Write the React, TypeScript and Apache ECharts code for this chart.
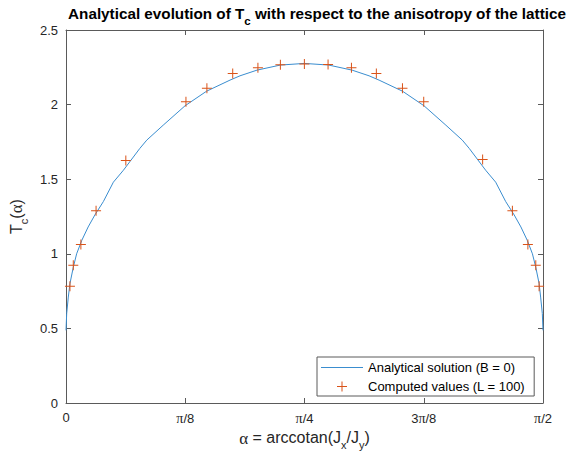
import React, { useEffect, useRef } from "react";
import * as echarts from "echarts";

// Analytical curve (left half and right half)
const lineAlphaLeft = [0, 0.0023, 0.0076, 0.013, 0.024, 0.035, 0.052, 0.073, 0.095, 0.123, 0.156, 0.189, 0.243, 0.266, 0.32, 0.392, 0.463, 0.54, 0.573, 0.629, 0.706, 0.785];
const lineTLeft = [0.487, 0.6, 0.71, 0.8, 0.91, 1.0, 1.09, 1.18, 1.26, 1.35, 1.48, 1.56, 1.706, 1.762, 1.862, 1.992, 2.09, 2.164, 2.193, 2.231, 2.265, 2.276];
const lineAlphaRight = [0.865, 0.942, 0.998, 1.031, 1.108, 1.179, 1.251, 1.305, 1.328, 1.382, 1.415, 1.448, 1.476, 1.498, 1.519, 1.536, 1.547, 1.558, 1.563, 1.5685, 1.5708];
const lineTRight = [2.265, 2.231, 2.193, 2.164, 2.09, 1.992, 1.862, 1.762, 1.706, 1.56, 1.48, 1.35, 1.26, 1.18, 1.09, 1.0, 0.91, 0.8, 0.71, 0.6, 0.487];

// Computed values (L = 100)
const pointAlpha = [0.013, 0.024, 0.049, 0.099, 0.197, 0.395, 0.464, 0.549, 0.632, 0.706, 0.785, 0.863, 0.94, 1.022, 1.108, 1.178, 1.372, 1.47, 1.521, 1.547, 1.558];
const pointT = [0.783, 0.924, 1.063, 1.289, 1.625, 2.019, 2.109, 2.209, 2.247, 2.267, 2.272, 2.269, 2.247, 2.209, 2.109, 2.019, 1.632, 1.288, 1.063, 0.924, 0.783];

const xTickLabels = ["0", "{p|π}/8", "{p|π}/4", "3{p|π}/8", "{p|π}/2"];
const yTickLabels = ["0", "0.5", "1", "1.5", "2", "2.5"];

const FONT = "'Liberation Sans', Arial, Helvetica, sans-serif";
const SERIF = "'Liberation Serif', 'DejaVu Serif', serif";
const AX = "#262626";
const BOX = "#5a5a5a";
const LINE_COLOR = "#3a8dcf";
const PLUS = "path://M4.5,0 L5.5,0 L5.5,4.5 L10,4.5 L10,5.5 L5.5,5.5 L5.5,10 L4.5,10 L4.5,5.5 L0,5.5 L0,4.5 L4.5,4.5 Z";
const LINE_ICON = "path://M0,0 L42,0 L42,1 L0,1 Z";

export default function App() {
  const ref = useRef<HTMLDivElement>(null);
  useEffect(() => {
    if (!ref.current) return;
    const chart = echarts.init(ref.current, null, { renderer: "svg" });
    const lineData = [
      ...lineAlphaLeft.map((a, i) => [a, lineTLeft[i]]),
      ...lineAlphaRight.map((a, i) => [a, lineTRight[i]]),
    ];
    const pts = pointAlpha.map((a, i) => [a, pointT[i]]);
    const step = Math.PI / 8;
    const xRich = { p: { fontFamily: SERIF, fontSize: 14, color: AX } };
    const nameRich = {
      g: { fontFamily: SERIF, fontSize: 17, color: AX, lineHeight: 18, verticalAlign: "top" },
      n: { fontFamily: FONT, fontSize: 16, color: AX, lineHeight: 18, verticalAlign: "top" },
      s: { fontFamily: FONT, fontSize: 11, color: AX, lineHeight: 11, padding: [10, 0, 0, 0], verticalAlign: "top" },
    };
    const axisCommon = {
      axisLine: { show: true, onZero: false, lineStyle: { color: BOX, width: 1 } },
      axisTick: { show: true, inside: true, length: 5, lineStyle: { color: BOX, width: 1 } },
      splitLine: { show: false },
    };
    chart.setOption({
      animation: false,
      backgroundColor: "#fff",
      title: {
        left: 312,
        top: 1,
        textAlign: "center",
        text: "{n|Analytical evolution of T}{s|c}{n| with respect to the anisotropy of the lattice}",
        textStyle: {
          rich: {
            n: { fontFamily: FONT, fontSize: 15.25, fontWeight: "bold", color: "#000", lineHeight: 17, verticalAlign: "top" },
            s: { fontFamily: FONT, fontSize: 11.5, fontWeight: "bold", color: "#000", lineHeight: 12, padding: [9, 0, 0, 0], verticalAlign: "top" },
          },
        },
      },
      grid: { left: 66, right: 26, top: 30, bottom: 55, containLabel: false },
      legend: {
        orient: "vertical",
        left: 317,
        top: 357,
        padding: [3, 9, 2, 4],
        itemWidth: 42,
        itemHeight: 10,
        itemGap: 4,
        borderColor: BOX,
        borderWidth: 1,
        borderRadius: 0,
        backgroundColor: "#fff",
        selectedMode: false,
        textStyle: { fontFamily: FONT, fontSize: 13, color: "#000", lineHeight: 15 },
        data: [
          { name: "Analytical solution (B = 0)", icon: LINE_ICON, itemStyle: { color: LINE_COLOR } },
          { name: "Computed values (L = 100)" },
        ],
      },
      xAxis: [
        {
          type: "value",
          min: 0,
          max: Math.PI / 2,
          interval: step,
          position: "bottom",
          ...axisCommon,
          axisLabel: {
            margin: 8,
            fontFamily: FONT,
            fontSize: 13,
            color: AX,
            rich: xRich,
            formatter: (v: number) => xTickLabels[Math.round(v / step)] ?? "",
          },
          name: "{g|α}{n| = arccotan(J}{s|x}{n|/J}{s|y}{n|)}",
          nameLocation: "middle",
          nameGap: 25,
          nameTextStyle: { rich: nameRich },
        },
        {
          type: "value",
          min: 0,
          max: Math.PI / 2,
          interval: step,
          position: "top",
          ...axisCommon,
          axisLabel: { show: false },
        },
      ],
      yAxis: [
        {
          type: "value",
          min: 0,
          max: 2.5,
          interval: 0.5,
          position: "left",
          ...axisCommon,
          axisLabel: {
            margin: 8,
            fontFamily: FONT,
            fontSize: 13,
            color: AX,
            formatter: (v: number) => yTickLabels[Math.round(v / 0.5)] ?? "",
          },
          name: "{n|T}{s|c}{n|(}{g|α}{n|)}",
          nameLocation: "middle",
          nameGap: 37,
          nameTextStyle: { rich: nameRich },
        },
        {
          type: "value",
          min: 0,
          max: 2.5,
          interval: 0.5,
          position: "right",
          ...axisCommon,
          axisLabel: { show: false },
        },
      ],
      series: [
        {
          name: "Analytical solution (B = 0)",
          type: "line",
          xAxisIndex: 0,
          yAxisIndex: 0,
          data: lineData,
          symbol: "none",
          showSymbol: false,
          lineStyle: { color: LINE_COLOR, width: 1 },
          itemStyle: { color: LINE_COLOR },
          z: 2,
        },
        {
          name: "Computed values (L = 100)",
          type: "scatter",
          xAxisIndex: 0,
          yAxisIndex: 0,
          data: pts,
          symbol: PLUS,
          symbolSize: 10,
          itemStyle: { color: "#D95319", opacity: 1 },
          z: 3,
        },
      ],
    });
    return () => chart.dispose();
  }, []);
  return (
    <div
      ref={ref}
      style={{ position: "fixed", left: 0, top: 0, width: 569, height: 458 }}
    />
  );
}
